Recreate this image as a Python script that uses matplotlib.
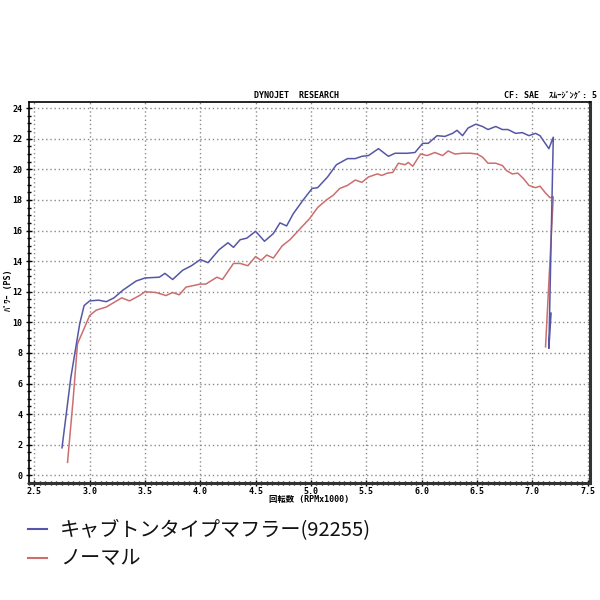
import matplotlib
matplotlib.use("Agg")
import matplotlib.pyplot as plt
from matplotlib.ticker import MultipleLocator

# capped type muffler (blue)
rpm_a = [2.75, 2.83, 2.91, 2.95, 3.0, 3.08, 3.15, 3.22, 3.30, 3.42, 3.5, 3.63, 3.68, 3.75,
         3.84, 3.92, 4.0, 4.07, 4.17, 4.25, 4.3, 4.36, 4.42, 4.5, 4.58, 4.66, 4.72, 4.78,
         4.84, 4.93, 5.01, 5.06, 5.15, 5.23, 5.33, 5.40, 5.46, 5.52, 5.61, 5.70, 5.76,
         5.87, 5.94, 6.01, 6.06, 6.14, 6.21, 6.28, 6.32, 6.37, 6.42, 6.49, 6.55, 6.60,
         6.67, 6.73, 6.78, 6.85, 6.91, 6.97, 7.03, 7.07, 7.15, 7.19, 7.15, 7.17]
ps_a = [1.8, 6.4, 9.9, 11.1, 11.4, 11.45, 11.35, 11.6, 12.1, 12.7, 12.9, 12.95, 13.2, 12.8,
        13.4, 13.7, 14.1, 13.9, 14.75, 15.2, 14.9, 15.4, 15.5, 15.95, 15.3, 15.8, 16.5, 16.3,
        17.1, 18.0, 18.75, 18.8, 19.5, 20.3, 20.7, 20.7, 20.85, 20.9, 21.35, 20.85, 21.05,
        21.05, 21.1, 21.7, 21.7, 22.2, 22.15, 22.35, 22.55, 22.2, 22.7, 22.95, 22.8, 22.6,
        22.8, 22.6, 22.6, 22.35, 22.4, 22.2, 22.35, 22.2, 21.35, 22.1, 8.3, 10.6]

# stock (red)
rpm_b = [2.80, 2.85, 2.89, 2.95, 3.0, 3.06, 3.15, 3.22, 3.29, 3.36, 3.45, 3.5, 3.6, 3.69,
         3.75, 3.81, 3.87, 4.0, 4.05, 4.15, 4.2, 4.3, 4.36, 4.43, 4.5, 4.55, 4.6, 4.66,
         4.74, 4.81, 4.9, 4.99, 5.06, 5.14, 5.2, 5.26, 5.33, 5.40, 5.46, 5.52, 5.60, 5.64,
         5.69, 5.74, 5.79, 5.85, 5.88, 5.92, 5.99, 6.05, 6.12, 6.19, 6.24, 6.30, 6.37, 6.44,
         6.50, 6.55, 6.60, 6.67, 6.73, 6.77, 6.82, 6.87, 6.92, 6.97, 7.03, 7.07, 7.12, 7.16,
         7.19, 7.12]
ps_b = [0.85, 4.9, 8.6, 9.6, 10.45, 10.8, 11.0, 11.3, 11.6, 11.4, 11.75, 12.0, 11.95, 11.75,
        11.95, 11.8, 12.3, 12.5, 12.5, 12.95, 12.8, 13.85, 13.85, 13.7, 14.3, 14.05, 14.4, 14.2,
        15.0, 15.4, 16.1, 16.8, 17.5, 18.0, 18.3, 18.75, 18.95, 19.3, 19.15, 19.5, 19.7, 19.6,
        19.75, 19.8, 20.4, 20.3, 20.45, 20.2, 21.0, 20.9, 21.1, 20.9, 21.2, 21.0, 21.05, 21.05,
        21.0, 20.8, 20.4, 20.4, 20.25, 19.9, 19.7, 19.75, 19.4, 18.95, 18.8, 18.9, 18.45, 18.15,
        18.2, 8.4]

legend_labels = ["キャブトンタイプマフラー(92255)", "ノーマル"]
blue = "#5656a8"
red = "#cc6e6e"

mono = ["DejaVu Sans Mono", "Noto Sans CJK JP"]
jp = ["Noto Sans CJK JP", "DejaVu Sans"]

fig = plt.figure(figsize=(6, 6), dpi=100)
ax = fig.add_axes([0.048, 0.195, 0.935, 0.635])

ax.plot(rpm_b, ps_b, color=red, lw=1.1)
ax.plot(rpm_a, ps_a, color=blue, lw=1.1)

ax.set_xlim(2.45, 7.52)
ax.set_ylim(-0.5, 24.4)
ax.xaxis.set_major_locator(MultipleLocator(0.5))
ax.xaxis.set_minor_locator(MultipleLocator(0.05))
ax.yaxis.set_major_locator(MultipleLocator(2))
ax.yaxis.set_minor_locator(MultipleLocator(0.5))
ax.tick_params(which="both", direction="inout", width=1, colors="black")
ax.tick_params(which="major", length=5, labelsize=6)
ax.tick_params(axis="x", which="major", pad=0.5)
ax.tick_params(axis="y", which="major", pad=2)
ax.tick_params(which="minor", length=3)
for t in ax.get_xticklabels() + ax.get_yticklabels():
    t.set_family("DejaVu Sans Mono")
    t.set_weight("bold")
ax.grid(True, which="major", color="#8a8a8a", lw=1, ls=(0, (1, 2)))

for s in ["left", "top"]:
    ax.spines[s].set_linewidth(1.2)
for s in ["right", "bottom"]:
    ax.spines[s].set_linewidth(2.2)
    ax.spines[s].set_color("#333333")

fig.text(0.495, 0.84, "DYNOJET  RESEARCH", family=mono, weight="bold", fontsize=6,
         ha="center", va="center")
fig.text(0.995, 0.84, "CF: SAE  ｽﾑｰｼﾞﾝｸﾞ: 5", family=mono, weight="bold", fontsize=6,
         ha="right", va="center")
fig.text(0.515, 0.168, "回転数 (RPMx1000)", family=mono, weight="bold", fontsize=6,
         ha="center", va="center")
fig.text(0.014, 0.517, "ﾊﾟﾜｰ (PS)", family=mono, weight="bold", fontsize=6,
         ha="center", va="center", rotation=90)

# legend below the chart
for i, (lab, col) in enumerate(zip(legend_labels, [blue, red])):
    y = 0.118 - i * 0.048
    fig.add_artist(plt.Line2D([0.047, 0.078], [y, y], color=col, lw=1.5))
    fig.text(0.1, y, lab, family=jp, fontsize=14.5, ha="left", va="center", color="#111111")

fig.savefig("out.png", dpi=100)
